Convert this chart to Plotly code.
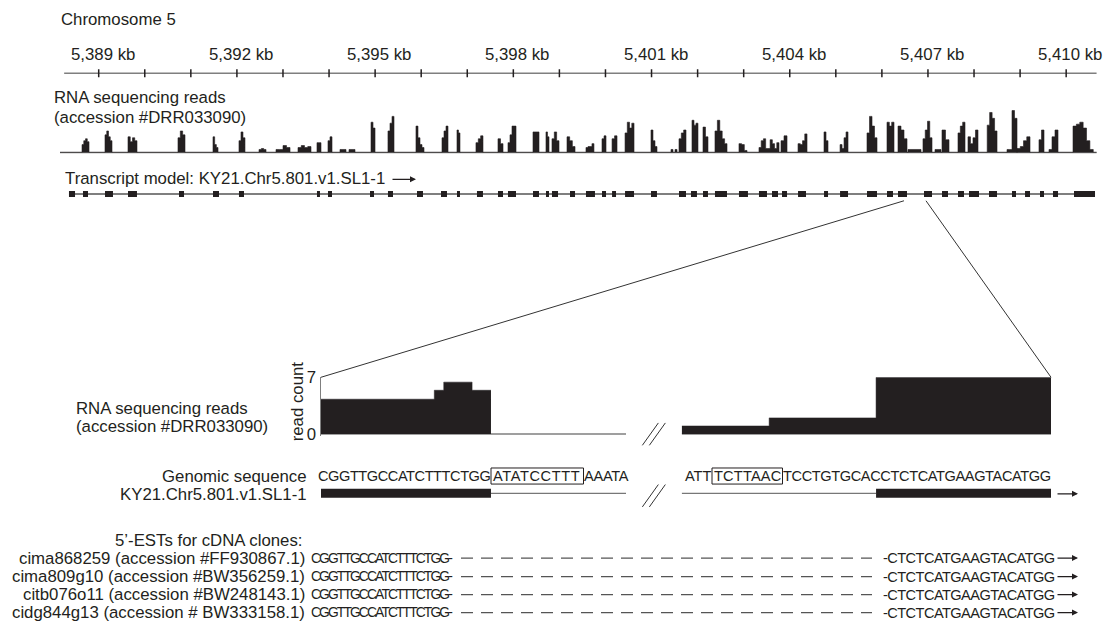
import plotly.graph_objects as go

W, H = 1107, 641
INK = "#231f20"
GREY = "#7f7f7f"
FONT = "Liberation Sans, Arial, Helvetica, sans-serif"

# ---------------- data ----------------
chrom_name = "Chromosome 5"
ruler_ticks_kb = [5389, 5390, 5391, 5392, 5393, 5394, 5395, 5396, 5397, 5398, 5399,
                  5400, 5401, 5402, 5403, 5404, 5405, 5406, 5407, 5408, 5409, 5410]
ruler_label_kb = [5389, 5392, 5395, 5398, 5401, 5404, 5407, 5410]
ruler_labels = ["5,389 kb", "5,392 kb", "5,395 kb", "5,398 kb",
                "5,401 kb", "5,404 kb", "5,407 kb", "5,410 kb"]
ruler_span_kb = [5388.25, 5410.66]

# RNA-seq coverage blocks over the locus (start kb, end kb, depth profile)
cov_start_kb = [5388.638, 5389.137, 5389.636, 5390.721, 5391.481, 5392.045, 5392.480, 5392.849,
                5393.326, 5393.738, 5393.977, 5394.237, 5394.433, 5394.911, 5395.279, 5395.887,
                5396.452, 5396.777, 5397.189, 5397.667, 5397.884, 5398.427, 5398.709, 5398.839,
                5399.165, 5399.577, 5399.925, 5400.143, 5400.425, 5400.988, 5401.422, 5401.596,
                5401.878, 5402.117, 5402.377, 5402.898, 5403.332, 5403.810, 5404.180, 5404.744,
                5405.092, 5405.677, 5406.111, 5406.350, 5406.567, 5406.892, 5407.153, 5407.305,
                5407.652, 5407.869, 5408.286, 5408.716, 5408.933, 5409.410, 5409.627, 5410.149]
cov_end_kb = [5388.790, 5389.289, 5389.831, 5390.873, 5391.590, 5392.175, 5392.632, 5393.153,
              5393.608, 5393.825, 5394.064, 5394.368, 5394.563, 5394.998, 5395.410, 5396.061,
              5396.582, 5396.842, 5397.341, 5397.776, 5398.058, 5398.557, 5398.774, 5398.991,
              5399.339, 5399.750, 5400.012, 5400.251, 5400.620, 5401.118, 5401.553, 5401.748,
              5402.008, 5402.225, 5402.638, 5403.072, 5403.767, 5403.941, 5404.375, 5404.831,
              5405.265, 5405.894, 5406.263, 5406.545, 5406.849, 5407.088, 5407.283, 5407.457,
              5407.804, 5408.086, 5408.499, 5408.933, 5409.215, 5409.519, 5409.823, 5410.588]
cov_profile = [[8, 12, 14, 11], [18, 22, 16, 12], [16, 11, 15, 12], [15, 22, 18], [16, 8, 5],
               [12, 21, 15], [3, 4, 3], [3, 3, 7, 5], [5, 7, 5, 6], [10],
               [12, 16], [3], [3], [31, 25], [22, 30, 37],
               [27, 15, 8, 5], [15, 22, 27], [23, 20], [10, 14, 17], [14, 9],
               [10, 18, 27, 27], [21, 21], [21, 16], [14, 21, 12], [16, 12, 6],
               [5, 6, 6, 9], [14, 17], [14, 17], [20, 31, 25, 30], [23, 12, 6],
               [3, 0, 3], [14, 20, 23], [33, 28, 30], [26, 16], [22, 33, 22, 14, 9],
               [9, 8, 2], [5, 12, 14, 4, 4, 13, 9, 4, 10], [12, 17], [9, 8, 12, 19], [21, 12],
               [8, 4, 15, 21], [20, 37, 27, 15], [31, 27, 31], [27, 23, 14], [3],
               [14, 23, 32, 15], [3], [23, 13], [20, 27, 31], [16, 9, 15, 23],
               [28, 41, 35, 22], [3, 3, 43, 35], [4, 6, 12, 16], [13, 23], [3, 16, 23],
               [27, 29, 31, 25, 12, 3]]
cov_span_kb = [5388.16, 5410.66]

# Transcript model KY21.Chr5.801.v1.SL1-1 exons (kb)
exon_start_kb = [5388.355, 5388.659, 5389.137, 5389.636, 5390.743, 5391.481, 5392.045, 5393.738,
                 5393.977, 5394.889, 5395.279, 5395.909, 5396.430, 5396.777, 5397.211, 5397.667,
                 5397.884, 5398.427, 5398.709, 5398.839, 5399.230, 5399.577, 5399.925, 5400.143,
                 5400.425, 5400.988, 5401.596, 5401.856, 5402.117, 5402.377, 5402.898, 5403.332,
                 5403.615, 5403.832, 5404.180, 5404.744, 5405.092, 5405.677, 5406.111, 5406.350,
                 5406.914, 5407.305, 5407.652, 5407.891, 5408.325, 5408.824, 5409.107, 5409.432,
                 5409.714, 5410.170]
exon_end_kb = [5388.486, 5388.768, 5389.310, 5389.831, 5390.852, 5391.611, 5392.154, 5393.803,
               5394.064, 5394.976, 5395.388, 5396.039, 5396.560, 5396.842, 5397.341, 5397.776,
               5398.058, 5398.557, 5398.774, 5398.970, 5399.339, 5399.772, 5400.012, 5400.229,
               5400.620, 5401.118, 5401.748, 5401.986, 5402.225, 5402.638, 5403.093, 5403.506,
               5403.745, 5403.941, 5404.353, 5404.831, 5405.265, 5405.894, 5406.241, 5406.545,
               5407.088, 5407.435, 5407.782, 5408.108, 5408.499, 5408.911, 5409.215, 5409.519,
               5409.823, 5410.626]
zoom_exon = 39  # the zoom-in shows the end of this exon and the start of the next one

# Zoomed region: genomic sequence on either side of the break
seq_left = "CGGTTGCCATCTTTCTGGATATCCTTTAAATA"
seq_right = "ATTTCTTAACTCCTGTGCACCTCTCATGAAGTACATGG"
seg_left_len = 32.3
seg_right_len = 38
cov_left_breaks = [0, 12, 13, 16, 18]
cov_left_reads = [4.3, 5.4, 6.4, 5.4]
cov_right_breaks = [0, 9, 20, 38]
cov_right_reads = [1, 2, 7]
exon_left = [0, 18]
exon_right = [20, 38]
box_left_chars = [18, 27]   # ATATCCTTT
box_right_chars = [3, 10]   # TCTTAAC
read_axis_max = 7

est_header = "5\u2019-ESTs for cDNA clones:"
est_clones = ["cima868259 (accession #FF930867.1)",
              "cima809g10 (accession #BW356259.1)",
              "citb076o11 (accession #BW248143.1)",
              "cidg844g13 (accession # BW333158.1)"]
est_left = "CGGTTGCCATCTTTCTGG"
est_right = "CTCTCATGAAGTACATGG"

# ---------------- layout constants (pixels) ----------------
KB0, KB0_PX, PX_PER_KB = 5389, 98.7, 46.07
RULER_Y = 66
COV_BASE_Y = 147.3
TX_Y = 190
LOW_L = (321, 626)
LOW_R = (681.7, 1051)
READ0_Y, READ7_Y = 436.7, 378.3
SEQ_Y, TXL_Y = 480, 497.5
EST_HEAD_Y = 545.5
EST_Y = [564, 583, 601.5, 620]
FS = 16.8
SEQ_FS = 14.6
# pixel extents of the three text runs of each genomic sequence (before box, box, after box)
SEQ_L_RUNS = [(318, 491.5), (492.5, 583), (583.5, 630)]
SEQ_R_RUNS = [(685, 712.5), (713.5, 782), (783, 1054)]
EST_L_X = (311, 452)
EST_R_X = (879, 1054)
ADV = {"A": 0.667, "C": 0.722, "G": 0.778, "T": 0.611, "-": 0.333}


def px(v):
    return v / W


def py(v):
    return 1 - v / H


def kb_px(kb):
    return KB0_PX + (kb - KB0) * PX_PER_KB


fig = go.Figure()

# ---- ruler ----
fig.add_trace(go.Scatter(x=ruler_span_kb, y=[0, 0], mode="lines",
                         line=dict(color=GREY, width=1.5), xaxis="x", yaxis="y", hoverinfo="skip"))
tx, ty = [], []
for t in ruler_ticks_kb:
    tx += [t, t, None]
    ty += [-1, 1, None]
fig.add_trace(go.Scatter(x=tx, y=ty, mode="lines", line=dict(color=INK, width=1.5),
                         xaxis="x", yaxis="y", hoverinfo="skip"))

# ---- coverage ----
fig.add_trace(go.Scatter(x=cov_span_kb, y=[0, 0], mode="lines",
                         line=dict(color=GREY, width=1.5), xaxis="x", yaxis="y2", hoverinfo="skip"))
cx, cy = [cov_span_kb[0]], [0]
for s, e, prof in zip(cov_start_kb, cov_end_kb, cov_profile):
    w = (e - s) / len(prof)
    for j, h in enumerate(prof):
        cx.append(s + j * w)
        cy.append(h)
    cx.append(e)
    cy.append(0)
cx.append(cov_span_kb[1])
cy.append(0)
fig.add_trace(go.Scatter(x=cx, y=cy, mode="lines", line=dict(color=INK, width=0.6, shape="hv"),
                         fill="tozeroy", fillcolor=INK, xaxis="x", yaxis="y2", hoverinfo="skip"))

# ---- transcript model ----
fig.add_trace(go.Scatter(x=[exon_start_kb[0], exon_end_kb[-1]], y=[0, 0], mode="lines",
                         line=dict(color=GREY, width=2), xaxis="x", yaxis="y3", hoverinfo="skip"))
ex, ey = [], []
for s, e in zip(exon_start_kb, exon_end_kb):
    ex += [s, e, None]
    ey += [0, 0, None]
fig.add_trace(go.Scatter(x=ex, y=ey, mode="lines", line=dict(color=INK, width=6),
                         xaxis="x", yaxis="y3", hoverinfo="skip"))


# ---- zoomed coverage ----
def step_trace(breaks, vals, xa, ya):
    xs = list(breaks)
    ys = list(vals) + [vals[-1]]
    return go.Scatter(x=xs, y=ys, mode="lines", line=dict(color=INK, width=0.5, shape="hv"),
                      fill="tozeroy", fillcolor=INK, xaxis=xa, yaxis=ya, hoverinfo="skip")


fig.add_trace(go.Scatter(x=[0, seg_left_len], y=[0, 0], mode="lines",
                         line=dict(color=GREY, width=1.5), xaxis="x2", yaxis="y4", hoverinfo="skip"))
fig.add_trace(go.Scatter(x=[0, seg_right_len], y=[0, 0], mode="lines",
                         line=dict(color=GREY, width=1.5), xaxis="x3", yaxis="y5", hoverinfo="skip"))
fig.add_trace(step_trace(cov_left_breaks, cov_left_reads, "x2", "y4"))
fig.add_trace(step_trace(cov_right_breaks, cov_right_reads, "x3", "y5"))

# ---- zoomed transcript ----
fig.add_trace(go.Scatter(x=[exon_left[1], seg_left_len], y=[TXL_Y, TXL_Y], mode="lines",
                         line=dict(color="#555", width=1), xaxis="x2", yaxis="y6", hoverinfo="skip"))
fig.add_trace(go.Scatter(x=exon_left, y=[TXL_Y, TXL_Y], mode="lines",
                         line=dict(color=INK, width=9), xaxis="x2", yaxis="y6", hoverinfo="skip"))
fig.add_trace(go.Scatter(x=[0, exon_right[0]], y=[TXL_Y, TXL_Y], mode="lines",
                         line=dict(color="#555", width=1), xaxis="x3", yaxis="y7", hoverinfo="skip"))
fig.add_trace(go.Scatter(x=exon_right, y=[TXL_Y, TXL_Y], mode="lines",
                         line=dict(color=INK, width=9), xaxis="x3", yaxis="y7", hoverinfo="skip"))

# ---- axes ----
kb_lo = KB0 - KB0_PX / PX_PER_KB
kb_hi = KB0 + (W - KB0_PX) / PX_PER_KB
read_lo = -0.25
read_px = (READ0_Y - READ7_Y) / read_axis_max
hidden = dict(visible=False, fixedrange=True)
layout_axes = dict(
    xaxis=dict(domain=[0, 1], range=[kb_lo, kb_hi], anchor="y", **hidden),
    yaxis=dict(domain=[py(RULER_Y + 8), py(RULER_Y - 8)], range=[-2, 2], anchor="x", **hidden),
    yaxis2=dict(domain=[py(COV_BASE_Y + 2), py(COV_BASE_Y - 47.3)], range=[-2, 47.3],
                anchor="x", **hidden),
    yaxis3=dict(domain=[py(TX_Y + 10), py(TX_Y - 10)], range=[-10, 10], anchor="x", **hidden),
    xaxis2=dict(domain=[px(LOW_L[0]), px(LOW_L[1])], range=[0, seg_left_len], anchor="y4", **hidden),
    xaxis3=dict(domain=[px(LOW_R[0]), px(LOW_R[1])], range=[0, seg_right_len], anchor="y5", **hidden),
    yaxis4=dict(domain=[py(READ0_Y - read_lo * read_px), py(READ7_Y)], range=[read_lo, read_axis_max],
                anchor="x2", showline=True, linecolor=GREY, linewidth=1.5, ticks="",
                tickvals=[0, read_axis_max], ticktext=["0", str(read_axis_max)],
                tickfont=dict(family=FONT, size=FS, color=INK), showgrid=False, zeroline=False,
                fixedrange=True),
    yaxis5=dict(domain=[py(READ0_Y - read_lo * read_px), py(READ7_Y)], range=[read_lo, read_axis_max],
                anchor="x3", **hidden),
    yaxis6=dict(domain=[0, 1], range=[H, 0], anchor="x2", **hidden),
    yaxis7=dict(domain=[0, 1], range=[H, 0], anchor="x3", **hidden),
)

# ---- annotations ----
ann = []


def text(x, y, s, anchor="left", size=FS, xref="paper", xshift=0, **kw):
    ann.append(dict(x=x, y=py(y), xref=xref, yref="paper", text=s, showarrow=False,
                    xanchor=anchor, yanchor="middle", xshift=xshift, borderpad=0, borderwidth=0,
                    font=dict(family=FONT, size=size, color=INK), **kw))


def fitted(s, x0, x1, y, size, anchor="left"):
    """Place a run of sequence letters so that it fills the pixel span x0..x1."""
    natural = sum(ADV[c] for c in s) * size
    sp = (x1 - x0 - natural) / len(s)
    html = '<span style="letter-spacing:%.2fpx">%s</span>' % (sp, s)
    if anchor == "left":
        text(px(x0), y, html, size=size)
    else:
        text(px(x1 - sp), y, html, size=size, anchor="right")


def arrow(tip_px, y, length=24):
    ann.append(dict(x=px(tip_px), y=py(y), xref="paper", yref="paper", ax=-length, ay=0,
                    text="", showarrow=True, arrowhead=2, arrowsize=1, arrowwidth=1.2,
                    arrowcolor=INK, standoff=0))


text(px(61), 10.5, chrom_name)
for k, lab in zip(ruler_label_kb, ruler_labels):
    text(k, 46.5, lab, anchor="center", xref="x", xshift=4)
text(px(54), 91, "RNA sequencing reads")
text(px(54), 111, "(accession #DRR033090)")
text(px(65), 174, "Transcript model: KY21.Chr5.801.v1.SL1-1")
arrow(416, 175, 25)

text(px(76), 410, "RNA sequencing reads")
text(px(76), 429, "(accession #DRR033090)")
text(px(297), 403, "read count", anchor="center", textangle=-90)

text(px(307), SEQ_Y, "Genomic sequence", anchor="right")
text(px(307), TXL_Y + 1, "KY21.Chr5.801.v1.SL1-1", anchor="right")

for seq, (a, b), runs in [(seq_left, box_left_chars, SEQ_L_RUNS),
                          (seq_right, box_right_chars, SEQ_R_RUNS)]:
    parts = [seq[:a], seq[a:b], seq[b:]]
    for part, (x0, x1) in zip(parts, runs):
        fitted(part, x0, x1, SEQ_Y, SEQ_FS)

text(px(302), EST_HEAD_Y, est_header, anchor="right")
for yy, lab in zip(EST_Y, est_clones):
    text(px(304.5), yy, lab, anchor="right")
    fitted(est_left + "-", EST_L_X[0], EST_L_X[1], yy, 13.8)
    fitted("-" + est_right, EST_R_X[0], EST_R_X[1], yy, SEQ_FS, anchor="right")
    arrow(1078, yy, 22)

arrow(1078, TXL_Y + 0.5, 22)

# ---- shapes ----
shapes = []
# zoom connectors
zl = kb_px(exon_end_kb[zoom_exon])
zr = kb_px(exon_start_kb[zoom_exon + 1])
shapes.append(dict(type="line", xref="paper", yref="paper", x0=px(zl - 3), y0=py(TX_Y + 7),
                   x1=px(LOW_L[0]), y1=py(READ7_Y), line=dict(color="#333", width=1)))
shapes.append(dict(type="line", xref="paper", yref="paper", x0=px(zr + 2), y0=py(TX_Y + 7),
                   x1=px(LOW_R[1]), y1=py(READ7_Y), line=dict(color="#333", width=1)))
# break marks
gap_c = (LOW_L[1] + LOW_R[0]) / 2
for yc in [READ0_Y, SEQ_Y + 20]:
    for off in (-3.5, 3.5):
        shapes.append(dict(type="line", xref="paper", yref="paper",
                           x0=px(gap_c + off - 8), y0=py(yc + 11.5),
                           x1=px(gap_c + off + 8), y1=py(yc - 11.5),
                           line=dict(color="#333", width=1)))
# sequence boxes
for runs in (SEQ_L_RUNS, SEQ_R_RUNS):
    bx0, bx1 = runs[1][0] - 1.5, runs[1][1] + 0.5
    shapes.append(dict(type="rect", xref="paper", yref="paper",
                       x0=px(bx0), x1=px(bx1), y0=py(SEQ_Y + 8), y1=py(SEQ_Y - 8.5),
                       line=dict(color=INK, width=1)))
# EST dashed gaps
for yy in EST_Y:
    shapes.append(dict(type="line", xref="paper", yref="paper", x0=px(EST_L_X[1] + 9),
                       x1=px(EST_R_X[0] - 7), y0=py(yy), y1=py(yy),
                       line=dict(color="#555", width=1.2, dash="12px,8px")))

fig.update_layout(width=W, height=H, margin=dict(l=0, r=0, t=0, b=0),
                  paper_bgcolor="white", plot_bgcolor="rgba(0,0,0,0)", showlegend=False,
                  annotations=ann, shapes=shapes, **layout_axes)
fig.write_html("out.html", config={"displayModeBar": False, "staticPlot": True},
               post_script="document.body.style.margin='0';document.body.style.overflow='hidden';")
